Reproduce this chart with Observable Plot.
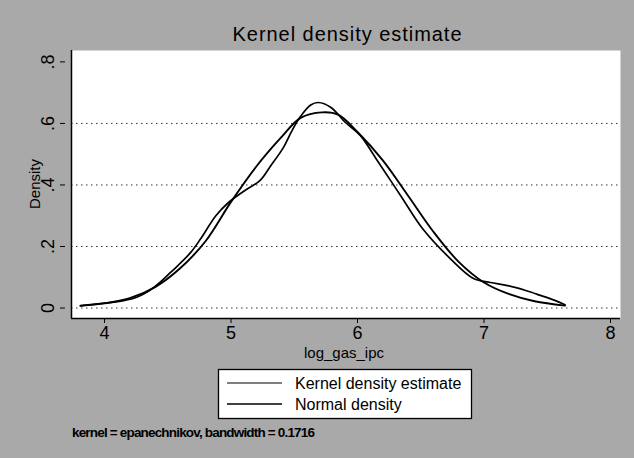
<!DOCTYPE html>
<html><head><meta charset="utf-8">
<script src="https://cdn.jsdelivr.net/npm/d3@7"></script>
<script src="https://cdn.jsdelivr.net/npm/@observablehq/plot@0.6"></script>
<style>
html,body{margin:0;padding:0;background:#a9a9a9;}
</style></head><body><div id="chart"></div>
<script>
// Kernel density estimate
const kernelX = [3.81,4.00,4.15,4.26,4.35,4.44,4.52,4.58,4.68,4.76,4.88,4.98,5.05,5.11,5.23,5.31,5.415,5.48,5.55,5.63,5.69,5.79,5.905,6.02,6.16,6.34,6.52,6.735,6.917,7.05,7.186,7.33,7.447,7.565,7.64];
const kernelY = [0.008,0.016,0.024,0.036,0.055,0.084,0.115,0.138,0.18,0.225,0.30,0.343,0.365,0.382,0.415,0.46,0.522,0.575,0.623,0.66,0.668,0.652,0.603,0.562,0.477,0.366,0.255,0.16,0.096,0.083,0.073,0.057,0.041,0.024,0.011];
// Normal density
const normalX = [3.81,4.0,4.2,4.4,4.6,4.8,5.0,5.2,5.4,5.55,5.72,5.85,6.0,6.2,6.4,6.6,6.8,7.0,7.2,7.4,7.64];
const normalY = [0.007,0.015,0.032,0.068,0.13,0.218,0.345,0.46,0.556,0.618,0.636,0.628,0.572,0.48,0.365,0.248,0.15,0.083,0.045,0.022,0.008];

const xTicks = [4,5,6,7,8];
const yTicks = [0,0.2,0.4,0.6,0.8];
const yTickLabels = ["0",".2",".4",".6",".8"];
const gridTicks = [0,0.2,0.4,0.6];
const xDomain = [3.739,8.079];
const yDomain = [-0.034,0.837];
const titleText = "Kernel density estimate";
const xLabel = "log_gas_ipc";
const yLabel = "Density";
const seriesNames = ["Kernel density estimate","Normal density"];
const noteText = "kernel = epanechnikov, bandwidth = 0.1716";

const kernel = kernelX.map((x,i)=>({x, y: kernelY[i]}));
const normal = normalX.map((x,i)=>({x, y: normalY[i]}));

const font = "'Liberation Sans', Arial, sans-serif";
const plot = Plot.plot({
  width: 634, height: 458,
  marginLeft: 71, marginRight: 14, marginTop: 50, marginBottom: 140,
  style: {background: "#a9a9a9", fontFamily: font, color: "black"},
  x: {domain: xDomain},
  y: {domain: yDomain},
  marks: [
    Plot.frame({fill: "white", stroke: "none"}),
    Plot.ruleY(gridTicks, {stroke: "#333", strokeWidth: 1, strokeDasharray: "1.5,3.5"}),
    Plot.line(normal, {x: "x", y: "y", stroke: "black", strokeWidth: 1.9, curve: "catmull-rom"}),
    Plot.line(kernel, {x: "x", y: "y", stroke: "black", strokeWidth: 1.7, curve: "catmull-rom"}),
    Plot.ruleX([xDomain[0]], {stroke: "black", strokeWidth: 1.5}),
    Plot.ruleY([yDomain[0]], {stroke: "black", strokeWidth: 1.5}),
    Plot.axisX({ticks: xTicks, tickSize: 5, tickPadding: 3, fontSize: 18, label: null, tickFormat: d => String(d)}),
    Plot.axisY({ticks: yTicks, tickSize: 5, tickPadding: 7, fontSize: 18, label: null, tickRotate: -90, dx: -6,
      tickFormat: d => yTickLabels[yTicks.indexOf(d)]})
  ]
});
document.getElementById("chart").appendChild(plot);

const svg = d3.select(plot);
// title
svg.append("text").attr("x", 347).attr("y", 41).attr("text-anchor", "middle")
  .attr("font-family", font).attr("font-size", 20).attr("fill", "black")
  .attr("textLength", 229).text(titleText);
// x label
svg.append("text").attr("x", 344).attr("y", 358).attr("text-anchor", "middle")
  .attr("font-family", font).attr("font-size", 15).text(xLabel);
// y label
svg.append("text").attr("transform", "translate(40,184) rotate(-90)").attr("text-anchor", "middle")
  .attr("font-family", font).attr("font-size", 15).text(yLabel);
// legend
const lg = svg.append("g");
lg.append("rect").attr("x", 218.5).attr("y", 369.5).attr("width", 253).attr("height", 49)
  .attr("fill", "white").attr("stroke", "black").attr("stroke-width", 1.3);
const rows = [{name: seriesNames[0], w: 1.1, y: 383}, {name: seriesNames[1], w: 1.6, y: 404}];
rows.forEach(r => {
  lg.append("line").attr("x1", 227).attr("x2", 282).attr("y1", r.y).attr("y2", r.y)
    .attr("stroke", "black").attr("stroke-width", r.w);
  lg.append("text").attr("x", 295).attr("y", r.y).attr("dy", "0.36em").attr("text-anchor", "start")
    .attr("font-family", font).attr("font-size", 16).text(r.name);
});
// note
svg.append("text").attr("x", 72).attr("y", 437).attr("text-anchor", "start")
  .attr("font-family", "'Liberation Sans Narrow', 'Liberation Sans', Arial, sans-serif")
  .attr("font-weight", "bold").attr("font-size", 13.5).attr("textLength", 243).text(noteText);
</script></body></html>
